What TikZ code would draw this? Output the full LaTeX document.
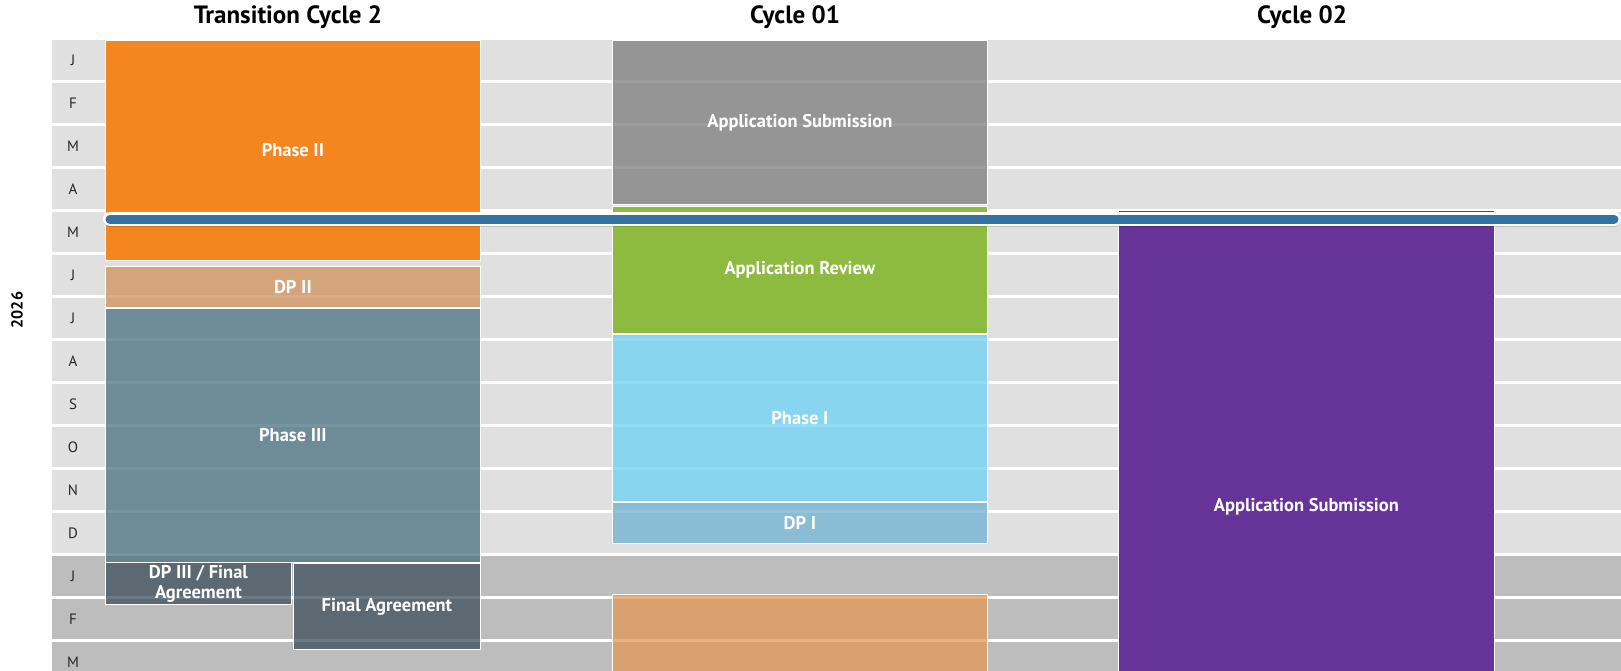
\documentclass[tikz,border=0pt]{standalone}
\usepackage{fontspec}
\setmainfont{PT Sans}
\definecolor{rowlight}{RGB}{224,224,224}
\definecolor{rowdark}{RGB}{189,189,189}
\definecolor{phaseorange}{RGB}{245,134,31}
\definecolor{dptan}{RGB}{208,145,92}
\definecolor{slateblue}{RGB}{73,112,129}
\definecolor{slatedark}{RGB}{62,78,90}
\definecolor{subgray}{RGB}{125,125,125}
\definecolor{reviewgreen}{RGB}{141,187,64}
\definecolor{skyblue}{RGB}{109,209,245}
\definecolor{dpblue}{RGB}{111,177,211}
\definecolor{nextorange}{RGB}{226,152,86}
\definecolor{subpurple}{RGB}{102,51,153}
\definecolor{todayblue}{RGB}{52,115,161}
\newcommand\boxfont{\bfseries\fontsize{18.5}{20}\selectfont}

\begin{document}
\begin{tikzpicture}[x=1pt,y=1pt]
	\tikzstyle{every node}+=[inner sep=0pt]
	\tikzstyle{monthlabel}=[font=\fontsize{15}{17}\selectfont, text=black!85]
	\tikzstyle{header}=[font=\bfseries\fontsize{25}{28}\selectfont]
	\tikzstyle{phasebox}=[draw=white, line width=0.8pt, anchor=north west, text=white, font=\boxfont, align=center]
	\tikzstyle{seethru}=[phasebox, fill opacity=0.75, text opacity=1]
	\useasboundingbox (0,0) rectangle (1621,-671);
	\clip (0,0) rectangle (1621,-671);
	% month rows
	\foreach \m [count=\i from 0] in {J,F,M,A,M,J,J,A,S,O,N,D} {
		\fill [rowlight] (52,-40-43*\i) rectangle (1621,-80-43*\i);
		\node [monthlabel] (m\i) at (73,-60-43*\i) {\m};
	}
	\foreach \m [count=\i from 12] in {J,F,M} {
		\fill [rowdark] (52,-40-43*\i) rectangle (1621,-80-43*\i);
		\node [monthlabel] (m\i) at (73,-60-43*\i) {\m};
	}
	\node [rotate=90, font=\bfseries\fontsize{16}{18}\selectfont] (year) at (17,-310) {2026};
	% column headers
	\node [header] (transhead) at (288,-17) {Transition Cycle 2};
	\node [header] (onehead) at (795,-17) {Cycle 01};
	\node [header] (twohead) at (1302,-17) {Cycle 02};
	% transition cycle 2
	\node [phasebox, fill=phaseorange, minimum width=375pt, minimum height=220pt] (phaseII) at (105,-40) {Phase II};
	\node [seethru, fill=dptan, minimum width=375pt, minimum height=41pt] (dpII) at (105,-266) {DP II};
	\node [seethru, fill=slateblue, minimum width=375pt, minimum height=254pt] (phaseIII) at (105,-308) {Phase III};
	\node [seethru, fill=slatedark, minimum width=186pt, minimum height=42pt] (dpIII) at (105,-562) {DP III / Final\\Agreement};
	\node [seethru, fill=slatedark, minimum width=187pt, minimum height=86pt] (finalagr) at (293,-563) {Final Agreement};
	% cycle 01
	\node [seethru, fill=subgray, minimum width=375pt, minimum height=164pt] (appsubA) at (612,-40) {Application Submission};
	\node [phasebox, fill=reviewgreen, minimum width=375pt, minimum height=127pt] (apprev) at (612,-206) {Application Review};
	\node [seethru, fill=skyblue, minimum width=375pt, minimum height=167pt] (phaseI) at (612,-334) {Phase I};
	\node [seethru, fill=dpblue, minimum width=375pt, minimum height=41pt] (dpI) at (612,-502) {DP I};
	\node [seethru, fill=nextorange, minimum width=375pt, minimum height=110pt] (nextblock) at (612,-594) {};
	% cycle 02
	\node [phasebox, fill=subpurple, minimum width=376pt, minimum height=593pt] (appsubB) at (1118,-210) {Application Submission};
	% today marker
	\coordinate (todaywest) at (110,-219);
	\coordinate (todayeast) at (1614,-219);
	\draw [black, opacity=0.15, line width=12pt, line cap=round] ([yshift=-2pt]todaywest) -- ([yshift=-2pt]todayeast);
	\draw [white, line width=14pt, line cap=round] (todaywest) -- (todayeast);
	\draw [todayblue, line width=9pt, line cap=round] (todaywest) -- (todayeast);
\end{tikzpicture}
\end{document}
